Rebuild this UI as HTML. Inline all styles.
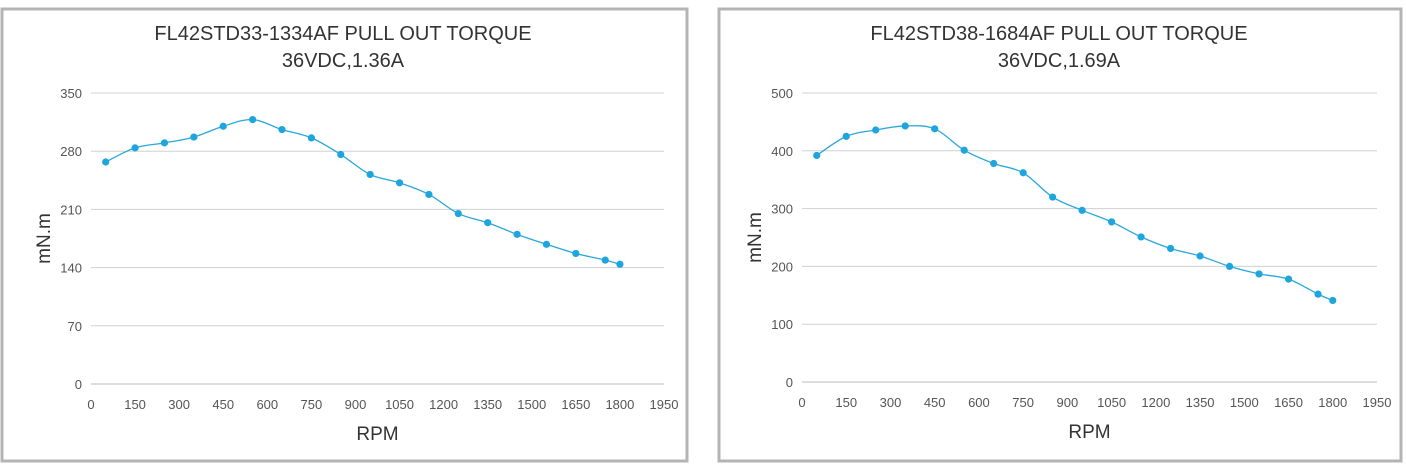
<!DOCTYPE html>
<html><head><meta charset="utf-8"><style>
body{margin:0;background:#fff;}
svg{display:block;font-family:"Liberation Sans",sans-serif;}
</style></head><body>
<svg id="s" width="1406" height="467" xmlns="http://www.w3.org/2000/svg"></svg>
<script>
const s=document.getElementById('s');let h='';
function chart(o){
  h+=`<rect x="${o.bx}" y="9" width="${o.bw}" height="452" fill="#fff" stroke="#b4b4b4" stroke-width="3"/>`;
  const X=v=>o.x0+(o.x1-o.x0)*v/1950, Y=v=>o.y0-(o.y0-o.y1)*v/o.ymax;
  for(let i=0;i<=5;i++){const v=o.ymax*i/5,y=Y(v);
    h+=`<line x1="${o.x0}" x2="${o.x1}" y1="${y}" y2="${y}" stroke="${i==0?'#bbb':'#d0d0d0'}" stroke-width="1"/>`;
    h+=`<text x="${o.x0-9}" y="${y+5}" font-size="13" fill="#555" text-anchor="end">${v}</text>`;}
  for(let v=0;v<=1950;v+=150){h+=`<text x="${X(v)}" y="${o.y0+25}" font-size="13" fill="#555" text-anchor="middle">${v}</text>`;}
  h+=`<text x="${(o.x0+o.x1)/2}" y="${o.y0+56}" font-size="19" fill="#333" text-anchor="middle">RPM</text>`;
  const cy=(o.y0+o.y1)/2;
  h+=`<text x="${o.x0-41}" y="${cy}" font-size="19" fill="#333" text-anchor="middle" transform="rotate(-90 ${o.x0-41} ${cy})">mN.m</text>`;
  h+=`<text x="${o.tx}" y="40" font-size="20" fill="#333" text-anchor="middle">${o.t1}</text>`;
  h+=`<text x="${o.tx}" y="67" font-size="20" fill="#333" text-anchor="middle">${o.t2}</text>`;
  const p=o.d.map(a=>[X(a[0]),Y(a[1])]);
  let d=`M${p[0][0]},${p[0][1]}`;
  for(let i=0;i<p.length-1;i++){const a=p[i-1]||p[i],b=p[i],c=p[i+1],e=p[i+2]||c;
    d+=` C${b[0]+(c[0]-a[0])/6},${b[1]+(c[1]-a[1])/6} ${c[0]-(e[0]-b[0])/6},${c[1]-(e[1]-b[1])/6} ${c[0]},${c[1]}`;}
  h+=`<path d="${d}" fill="none" stroke="#2aa7dc" stroke-width="1.3"/>`;
  p.forEach(q=>h+=`<circle cx="${q[0]}" cy="${q[1]}" r="3.6" fill="#1ea5de"/>`);
}
chart({bx:2,bw:685,x0:91,x1:664,y0:384,y1:93,ymax:350,tx:343,t1:"FL42STD33-1334AF PULL OUT TORQUE",t2:"36VDC,1.36A",
d:[[50,267],[150,284],[250,290],[350,297],[450,310],[550,318],[650,306],[750,296],[850,276],[950,252],[1050,242],[1150,228],[1250,205],[1350,194],[1450,180],[1550,168],[1650,157],[1750,149],[1800,144]]});
chart({bx:719,bw:682,x0:802,x1:1377,y0:382,y1:93,ymax:500,tx:1059,t1:"FL42STD38-1684AF PULL OUT TORQUE",t2:"36VDC,1.69A",
d:[[50,392],[150,425],[250,436],[350,443],[450,438],[550,401],[650,378],[750,362],[850,320],[950,297],[1050,277],[1150,251],[1250,231],[1350,218],[1450,200],[1550,187],[1650,178],[1750,152],[1800,141]]});
s.innerHTML=h;
</script>
</body></html>
